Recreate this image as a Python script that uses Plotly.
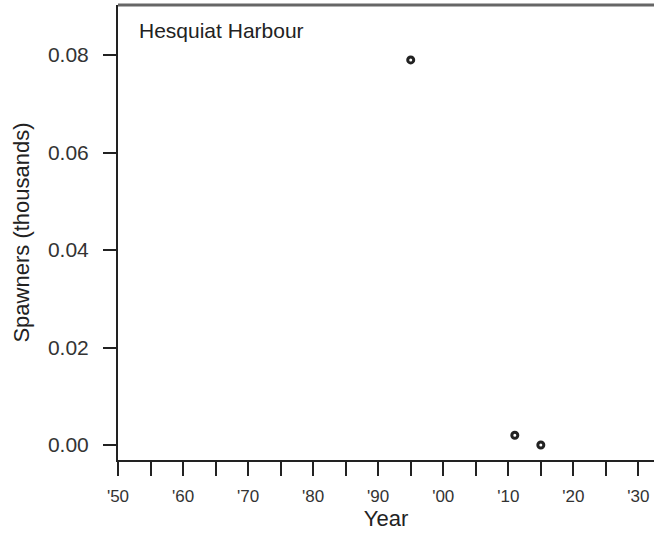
import plotly.graph_objects as go

# Escapement counts for Hesquiat Harbour
years = [1995, 2011, 2015]
spawners_thousands = [0.079, 0.002, 0.0]

# Axis ticks: every 5 years, labelled each decade
x_tick_years = list(range(1950, 2031, 5))
x_tick_labels = ["'50", "", "'60", "", "'70", "", "'80", "", "'90", "",
                 "'00", "", "'10", "", "'20", "", "'30"]
y_tick_values = [0.00, 0.02, 0.04, 0.06, 0.08]
y_tick_labels = ["0.00", "0.02", "0.04", "0.06", "0.08"]

font_family = "Liberation Sans, Arial, sans-serif"
ink = "#222222"
label_ink = "#333333"

fig = go.Figure()
fig.add_trace(go.Scatter(
    x=years, y=spawners_thousands, mode="markers",
    marker=dict(symbol="circle-open", size=6, color=ink,
                line=dict(width=3, color=ink)),
    showlegend=False, hoverinfo="x+y",
))

fig.update_layout(
    width=654, height=538,
    margin=dict(l=118, r=0, t=5, b=78),
    paper_bgcolor="white", plot_bgcolor="white",
    font=dict(family=font_family, color=ink),
    annotations=[dict(text="Hesquiat Harbour", xref="paper", yref="paper",
                      x=0.036, y=0.943, xanchor="left", yanchor="middle",
                      showarrow=False, font=dict(size=21, color=ink))],
    # upper frame edge of the panel
    shapes=[dict(type="line", xref="paper", yref="paper", x0=0, x1=1, y0=1, y1=1,
                 line=dict(color="#666666", width=3), layer="above")],
)

fig.update_xaxes(
    range=[1950, 2032.4], tickmode="array",
    tickvals=x_tick_years, ticktext=x_tick_labels,
    ticks="outside", ticklen=14, tickwidth=2, tickcolor=ink,
    tickfont=dict(size=17, color=label_ink), ticklabelstandoff=6,
    showline=True, linecolor=ink, linewidth=2, mirror=False,
    showgrid=False, zeroline=False,
    title=dict(text="Year", font=dict(size=22, color=ink), standoff=2),
)
fig.update_yaxes(
    range=[-0.003077, 0.09026], tickmode="array",
    tickvals=y_tick_values, ticktext=y_tick_labels,
    ticks="outside", ticklen=13, tickwidth=2, tickcolor=ink,
    tickfont=dict(size=21, color=label_ink), ticklabelstandoff=10,
    showline=True, linecolor=ink, linewidth=2, mirror=False,
    showgrid=False, zeroline=False,
    title=dict(text="Spawners (thousands)", font=dict(size=22, color=ink), standoff=12),
)

fig.write_html("out.html")
